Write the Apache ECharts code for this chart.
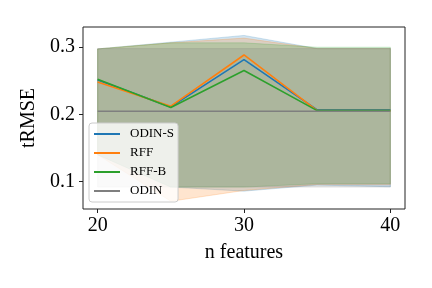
<!DOCTYPE html>
<html>
<head>
<meta charset="utf-8">
<script src="https://cdn.jsdelivr.net/npm/echarts@6/dist/echarts.min.js"></script>
<style>html,body{margin:0;padding:0;background:#fff}#c{width:432px;height:288px}</style>
</head>
<body>
<div id="c"></div>
<script>
const nFeatures = [20, 25, 30, 35, 40];
const seriesNames = ['ODIN-S', 'RFF', 'RFF-B', 'ODIN'];
const odinS = [0.251, 0.211, 0.281, 0.2065, 0.2065];
const rff = [0.248, 0.212, 0.288, 0.2055, 0.2055];
const rffB = [0.252, 0.210, 0.265, 0.2055, 0.2055];
const odin = [0.2045, 0.2045, 0.2045, 0.2045, 0.2045];
const odinSUpper = [0.297, 0.307, 0.317, 0.2975, 0.2975];
const odinSLower = [0.140, 0.092, 0.086, 0.095, 0.0925];
const rffUpper = [0.297, 0.306, 0.313, 0.2975, 0.2975];
const rffLower = [0.140, 0.071, 0.087, 0.096, 0.096];
const rffBUpper = [0.297, 0.306, 0.306, 0.2995, 0.2995];
const rffBLower = [0.140, 0.092, 0.092, 0.097, 0.097];
const odinUpper = [0.2975, 0.2975, 0.2975, 0.2975, 0.2975];
const odinLower = [0.092, 0.092, 0.092, 0.092, 0.092];
const xTicks = [20, 30, 40];
const yTicks = [0.1, 0.2, 0.3];

const colors = ['#1f77b4', '#ff7f0e', '#2ca02c', '#7f7f7f'];
const rgba = ['rgba(31,119,180,0.2)', 'rgba(255,127,14,0.2)', 'rgba(44,160,44,0.2)', 'rgba(127,127,127,0.2)'];
const means = [odinS, rff, rffB, odin];
const uppers = [odinSUpper, rffUpper, rffBUpper, odinUpper];
const lowers = [odinSLower, rffLower, rffBLower, odinLower];

const font = 'Liberation Serif';
const series = [];
for (let k = 0; k < 4; k++) {
  const lo = lowers[k], hi = uppers[k];
  series.push({
    name: '_band' + k, type: 'custom', silent: true, z: 1, animation: false,
    data: nFeatures.map((x, i) => [x, lo[i], hi[i]]),
    encode: { x: 0, y: [1, 2] },
    renderItem: function (params, api) {
      if (params.dataIndex !== 0) return null;
      const top = nFeatures.map((x, i) => api.coord([x, hi[i]]));
      const bot = nFeatures.map((x, i) => api.coord([x, lo[i]])).reverse();
      return {
        type: 'polygon',
        shape: { points: top.concat(bot) },
        style: { fill: rgba[k], stroke: rgba[k], lineWidth: 1 }
      };
    }
  });
}
for (let k = 0; k < 4; k++) {
  series.push({
    name: seriesNames[k], type: 'line', symbol: 'none', color: colors[k],
    data: nFeatures.map((x, i) => [x, means[k][i]]),
    lineStyle: { color: colors[k], width: 1.6 }, z: 3, animation: false
  });
}

const chart = echarts.init(document.getElementById('c'), null, { renderer: 'canvas' });
chart.setOption({
  animation: false,
  backgroundColor: '#fff',
  textStyle: { fontFamily: font },
  grid: { left: 83, right: 27, top: 27, bottom: 79, show: true, borderColor: '#222', borderWidth: 1, backgroundColor: 'transparent' },
  xAxis: {
    type: 'value', min: 19, max: 41,
    name: 'n features', nameLocation: 'middle', nameGap: 34,
    nameTextStyle: { fontFamily: font, fontSize: 20, color: '#000' },
    axisLine: { show: false },
    splitLine: { show: false },
    axisTick: { show: true, length: 4, lineStyle: { color: '#222', width: 1 }, customValues: xTicks },
    axisLabel: { fontFamily: font, fontSize: 20, color: '#000', margin: 7, customValues: xTicks, formatter: v => String(v) }
  },
  yAxis: {
    type: 'value', min: 0.0595, max: 0.3295,
    name: 'tRMSE', nameLocation: 'middle', nameGap: 36,
    nameTextStyle: { fontFamily: font, fontSize: 20, color: '#000' },
    axisLine: { show: false },
    splitLine: { show: false },
    axisTick: { show: true, length: 4, lineStyle: { color: '#222', width: 1 }, customValues: yTicks },
    axisLabel: { fontFamily: font, fontSize: 20, color: '#000', margin: 8, customValues: yTicks, formatter: v => v.toFixed(1) }
  },
  legend: {
    data: seriesNames, orient: 'vertical', left: 89, top: 123,
    icon: 'rect', itemWidth: 26, itemHeight: 2, itemGap: 5,
    padding: [4, 4, 4, 5],
    backgroundColor: 'rgba(255,255,255,0.8)', borderColor: '#cccccc', borderWidth: 1, borderRadius: 3,
    textStyle: { fontFamily: font, fontSize: 13, color: '#000', lineHeight: 14, padding: [0, 0, 0, 5] }
  },
  series: series
});
</script>
</body>
</html>
